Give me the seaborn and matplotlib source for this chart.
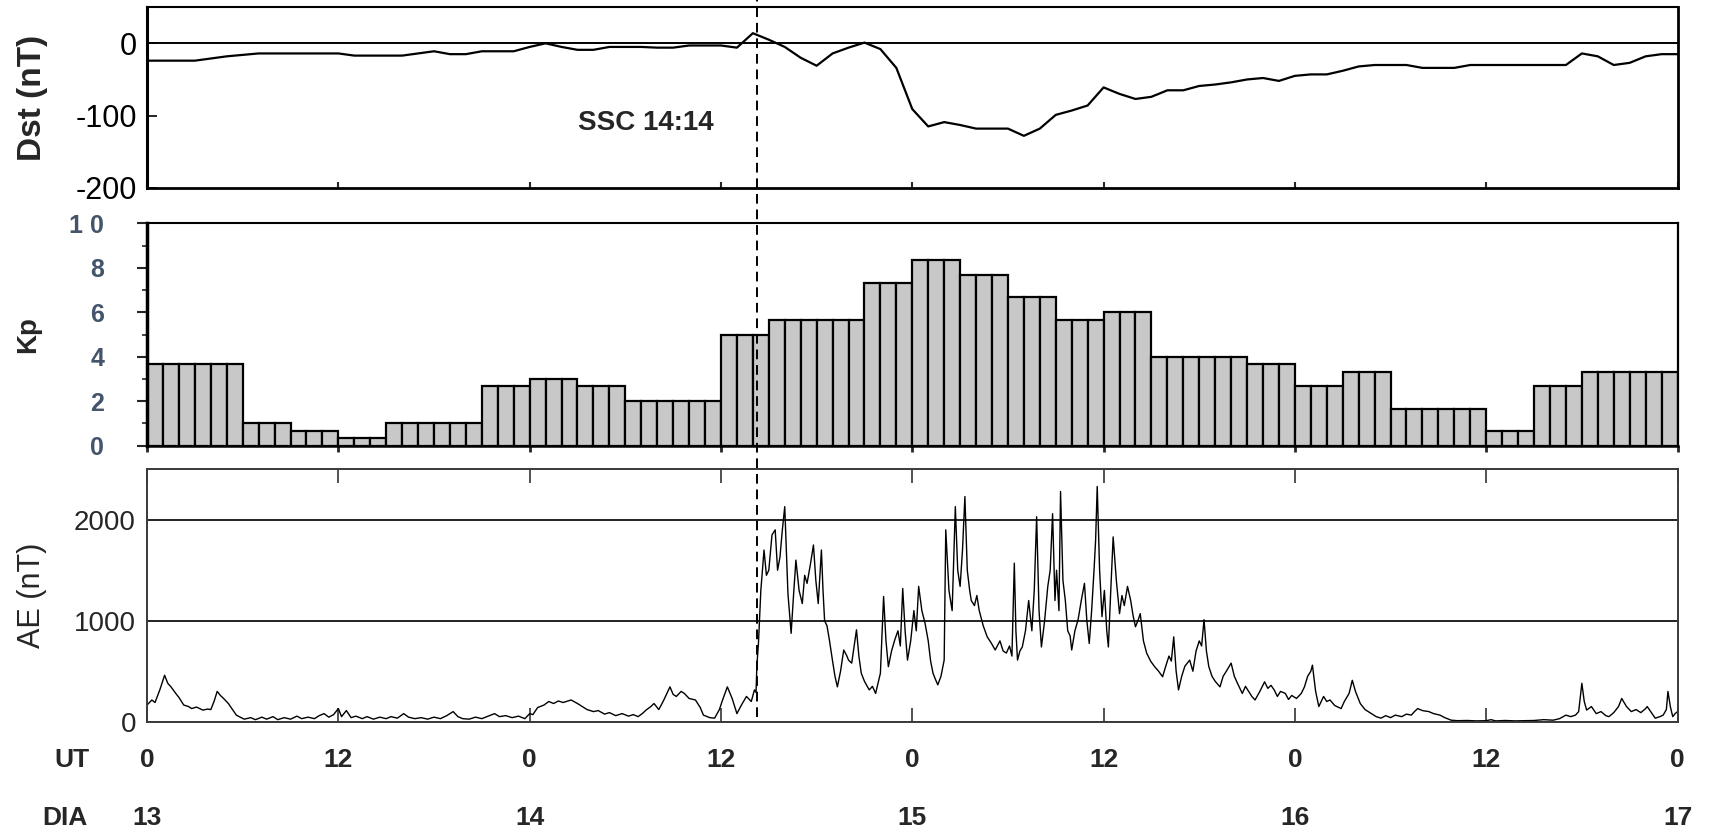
import numpy as np
import matplotlib
matplotlib.use("Agg")
import matplotlib.pyplot as plt
import matplotlib.transforms as mtransforms
from matplotlib.lines import Line2D
from matplotlib.ticker import MultipleLocator
import pandas as pd
import seaborn as sns

# Dst horario (nT), de 13/01 00 UT ate 17/01 00 UT
dst = [-24, -24, -24, -24, -21, -18, -16, -14, -14, -14, -14, -14, -14,
       -17, -17, -17, -17, -14, -11, -15, -15, -11, -11, -11,
       -5, 0, -5, -9, -9, -5, -5, -5, -6, -6, -3, -3, -3, -6,
       14, 5, -5, -20, -31, -14, -6, 1, -8, -34,
       -91, -115, -109, -113, -118, -118, -118, -128, -118, -99, -93, -86,
       -61, -70, -77, -74, -65, -65, -59, -57, -54, -50, -48, -52,
       -45, -43, -43, -38, -32, -30, -30, -30, -34, -34, -34, -30,
       -30, -30, -30, -30, -30, -30, -14, -18, -30, -27, -18, -15, -15]

# Kp tri-horario (32 intervalos)
kp = [3.67, 3.67, 1.0, 0.67, 0.33, 1.0, 1.0, 2.67,
      3.0, 2.67, 2.0, 2.0, 5.0, 5.67, 5.67, 7.33,
      8.33, 7.67, 6.67, 5.67, 6.0, 4.0, 4.0, 3.67,
      2.67, 3.33, 1.67, 1.67, 0.67, 2.67, 3.33, 3.33]

# AE (nT)
ae_hours = [0.0, 0.3, 0.5, 0.8, 1.1, 1.3, 1.5, 1.8, 2.0, 2.3, 2.6, 2.8, 3.1, 3.5, 3.8, 4.0,
            4.2, 4.4, 4.6, 4.8, 5.1, 5.4, 5.6, 5.9, 6.1, 6.5, 6.8, 7.2, 7.5, 7.9, 8.2, 8.6,
            9.0, 9.4, 9.7, 10.1, 10.5, 10.8, 11.1, 11.4, 11.7, 12.0, 12.2, 12.5, 12.8, 13.1,
            13.5, 13.8, 14.2, 14.6, 15.0, 15.3, 15.7, 16.1, 16.4, 16.8, 17.2, 17.6, 18.0, 18.4,
            18.8, 19.2, 19.5, 19.8, 20.2, 20.6, 21.0, 21.4, 21.8, 22.1, 22.5, 22.9, 23.3, 23.7,
            24.0, 24.2, 24.5, 24.9, 25.2, 25.5, 25.8, 26.1, 26.6, 27.0, 27.3, 27.6, 28.0, 28.3,
            28.7, 29.0, 29.4, 29.8, 30.2, 30.5, 30.8, 31.1, 31.3, 31.6, 31.8, 32.1, 32.4, 32.8,
            33.0, 33.2, 33.5, 33.7, 34.0, 34.4, 34.7, 34.9, 35.3, 35.6, 35.9, 36.1, 36.4, 36.7,
            37.0, 37.3, 37.6, 37.9, 38.1, 38.2,
            38.25, 38.35, 38.5, 38.7, 38.85, 39.0, 39.2, 39.4, 39.55, 39.7, 39.85, 40.0, 40.1,
            40.2, 40.4, 40.55, 40.7, 40.9, 41.1, 41.25, 41.4, 41.6, 41.8, 41.95, 42.1, 42.3,
            42.4, 42.5, 42.65, 42.8, 43.0, 43.15, 43.3, 43.5, 43.7, 43.9, 44.0, 44.2, 44.5,
            44.65, 44.8, 45.0, 45.3, 45.5, 45.7, 46.0, 46.2, 46.35, 46.5, 46.7, 46.9, 47.1,
            47.25, 47.4, 47.55, 47.7, 47.9, 48.1, 48.25, 48.4, 48.6, 48.8, 49.0, 49.15, 49.3,
            49.45, 49.6, 49.8, 50.0, 50.1, 50.3, 50.5, 50.6, 50.7, 50.85, 51.0, 51.15, 51.3,
            51.45, 51.6, 51.7, 51.9, 52.05, 52.2, 52.45, 52.7, 52.95, 53.2, 53.5, 53.7, 53.9,
            54.1, 54.25, 54.4, 54.5, 54.6, 54.75, 54.9, 55.1, 55.3, 55.5, 55.65, 55.8, 55.95,
            56.1, 56.3, 56.5, 56.65, 56.8, 56.95, 57.05, 57.2, 57.3, 57.45, 57.6, 57.75, 57.9,
            58.0, 58.2, 58.4, 58.6, 58.8, 58.95, 59.1, 59.25, 59.4, 59.5, 59.6, 59.75, 59.9,
            60.05, 60.2, 60.3, 60.45, 60.6, 60.8, 61.0, 61.15, 61.3, 61.5, 61.7, 61.85, 62.0,
            62.15, 62.3, 62.5, 62.7, 62.95, 63.2, 63.45, 63.7, 63.9, 64.1, 64.25, 64.4, 64.55,
            64.7, 64.9, 65.1, 65.4, 65.6, 65.8, 66.0, 66.15, 66.3, 66.45, 66.6, 66.8, 67.0,
            67.3, 67.5, 67.7, 68.0, 68.2, 68.4, 68.7, 68.9, 69.1, 69.3, 69.5, 69.8, 70.1,
            70.3, 70.5, 70.7, 70.9, 71.1, 71.4, 71.6, 71.8, 72.1, 72.4, 72.6, 72.8, 73.0,
            73.1, 73.3, 73.5, 73.8, 74.0, 74.2, 74.5, 74.9, 75.1, 75.4, 75.6, 75.8, 76.1,
            76.4, 76.8, 77.1, 77.4, 77.7, 78.0, 78.3, 78.7, 79.0, 79.3, 79.5, 79.7, 80.0,
            80.4, 80.7, 81.1, 81.4, 81.8, 82.2, 82.8, 83.4, 84.0, 84.3, 84.6, 85.2, 85.8,
            86.4, 87.0, 87.6, 88.2, 88.6, 89.0, 89.3, 89.6, 89.8, 90.0, 90.15, 90.3, 90.6,
            90.9, 91.2, 91.5, 91.7, 92.0, 92.3, 92.5, 92.8, 93.1, 93.4, 93.7, 94.0, 94.1,
            94.4, 94.6, 94.9, 95.1, 95.3, 95.4, 95.55, 95.7, 95.85, 96.0]
ae_values = [165, 215, 190, 315, 460, 380, 345, 280, 240, 165, 150, 130, 145, 115, 125, 120,
             200, 300, 260, 230, 180, 110, 65, 40, 25, 40, 20, 45, 25, 50, 20, 40,
             25, 55, 30, 45, 30, 60, 80, 45, 70, 130, 50, 110, 40, 55,
             30, 50, 25, 45, 30, 50, 35, 80, 45, 30, 40, 25, 45, 30,
             60, 100, 50, 30, 25, 45, 30, 55, 80, 50, 60, 40, 55, 30,
             80, 70, 140, 165, 200, 180, 205, 190, 215, 180, 150, 120, 100, 110,
             75, 90, 60, 80, 55, 70, 50, 85, 115, 150, 180, 120, 210, 345,
             270, 250, 300, 280, 230, 215, 140, 65, 40, 35, 120, 215, 345, 230,
             80, 170, 250, 200, 315, 290,
             550, 775, 1300, 1700, 1450, 1500, 1850, 1900, 1500, 1630, 1900, 2130, 1700,
             1270, 875, 1250, 1600, 1300, 1170, 1450, 1370, 1550, 1750, 1400, 1170, 1700,
             1300, 1000, 950, 810, 600, 450, 345, 500, 710, 650, 610, 580, 910,
             650, 480, 400, 315, 350, 280, 480, 1240, 800, 545, 700, 810, 900,
             750, 1320, 900, 610, 800, 1100, 900, 1340, 1100, 975, 800, 600, 480,
             420, 365, 450, 610, 1900, 1300, 1100, 1600, 2130, 1500, 1340, 1700, 2230,
             1500, 1300, 1200, 1150, 1250, 1100, 950, 840, 780, 710, 800, 700, 680,
             750, 650, 1570, 900, 610, 700, 740, 900, 1200, 900, 1300, 2030, 1100,
             740, 1000, 1340, 1500, 2060, 1200, 1500, 1100, 2280, 1400, 1200, 900, 850,
             710, 900, 1010, 1200, 1370, 1000, 775, 1100, 1500, 1800, 2330, 1500, 1040,
             1300, 900, 740, 1300, 1830, 1400, 1070, 1250, 1150, 1340, 1200, 1050, 940,
             1000, 1070, 800, 680, 600, 545, 500, 445, 550, 650, 600, 840, 500,
             315, 450, 550, 610, 500, 700, 800, 750, 1010, 700, 545, 450, 400,
             345, 450, 500, 580, 450, 380, 280, 350, 300, 250, 215, 300, 395,
             330, 360, 315, 250, 300, 280, 220, 260, 230, 280, 345, 450, 500,
             560, 300, 150, 250, 200, 215, 160, 130, 200, 280, 410, 300, 180,
             120, 80, 50, 35, 60, 40, 65, 50, 75, 65, 100, 130, 110,
             100, 80, 65, 40, 15, 10, 12, 8, 10, 20, 8, 12, 8,
             10, 12, 20, 15, 30, 65, 50, 65, 100, 380, 200, 115, 150,
             80, 100, 60, 50, 90, 150, 230, 150, 100, 120, 90, 130, 150,
             80, 35, 50, 65, 120, 300, 150, 50, 80, 100]

hour_ticks = [0, 12, 24, 36, 48, 60, 72, 84, 96]
ut_labels = ["0", "12", "0", "12", "0", "12", "0", "12", "0"]
day_ticks = [0, 24, 48, 72, 96]
day_labels = ["13", "14", "15", "16", "17"]
ssc_hour = 24 + 14 + 14 / 60  # SSC 14:14 UT do dia 14

sns.set_theme(style="ticks")
plt.rcParams["font.family"] = ["Liberation Sans", "DejaVu Sans"]

fig = plt.figure(figsize=(17.1, 8.35), dpi=100)
left, width = 0.086, 0.895
ax1 = fig.add_axes([left, 0.775, width, 0.2164])
ax2 = fig.add_axes([left, 0.4662, width, 0.2663])
ax3 = fig.add_axes([left, 0.1357, width, 0.3023])

# --- Dst ---
df_dst = pd.DataFrame({"hora": np.arange(len(dst)), "dst": dst})
sns.lineplot(data=df_dst, x="hora", y="dst", ax=ax1, color="black", lw=1.6)
ax1.axhline(0, color="black", lw=1.4, zorder=1)
ax1.set_xlim(0, 96)
ax1.set_ylim(-200, 50)
ax1.set_yticks([-200, -100, 0])
ax1.set_yticklabels(["-200", "-100", "0"])
ax1.set_xticks(hour_ticks)
ax1.set_xticklabels([])
ax1.tick_params(axis="y", direction="in", length=7, width=1.2, pad=7,
                labelsize=22, colors="black")
ax1.tick_params(axis="x", direction="in", length=4, width=1.5)
for side, lw in zip(["left", "right", "top", "bottom"], [2.2, 2.0, 1.5, 2.0]):
    ax1.spines[side].set_linewidth(lw)
    ax1.spines[side].set_color("black")
ax1.set_xlabel("")
ax1.set_ylabel("")
ax1.text(-0.075, 0.5, "Dst (nT)", transform=ax1.transAxes, rotation=90,
         ha="center", va="center", fontsize=24, fontweight="bold")
ax1.text(31.3, -110, "SSC 14:14", ha="center", va="center",
         fontsize=20, fontweight="bold")

# --- Kp ---
kp_hourly = np.repeat(kp, 3)
df_kp = pd.DataFrame({"hora": np.arange(len(kp_hourly)) + 0.5, "kp": kp_hourly})
sns.barplot(data=df_kp, x="hora", y="kp", ax=ax2, native_scale=True, width=1.0,
            color="#c8c8c8", saturation=1, edgecolor="black", linewidth=1.6,
            errorbar=None)
ax2.set_xlim(0, 96)
ax2.set_ylim(0, 10)
ax2.set_yticks([0, 2, 4, 6, 8, 10])
ax2.set_yticklabels(["0", "2", "4", "6", "8", "1 0"])
ax2.yaxis.set_minor_locator(MultipleLocator(1))
ax2.set_xticks(hour_ticks)
ax2.set_xticklabels([])
ax2.tick_params(axis="y", which="major", direction="out", length=7, width=1.5,
                pad=24, labelsize=18, labelcolor="#44546a")
ax2.tick_params(axis="y", which="minor", direction="out", length=3.5, width=1.2)
ax2.tick_params(axis="x", direction="out", length=4.5, width=2)
for lab in ax2.get_yticklabels():
    lab.set_fontweight("bold")
for side, lw in zip(["left", "right", "top", "bottom"], [2.5, 1.6, 1.5, 1.8]):
    ax2.spines[side].set_linewidth(lw)
    ax2.spines[side].set_color("black")
ax2.set_xlabel("")
ax2.set_ylabel("")
ax2.text(-0.078, 0.5, "Kp", transform=ax2.transAxes, rotation=90,
         ha="center", va="center", fontsize=20, fontweight="bold")

# --- AE ---
df_ae = pd.DataFrame({"hora": ae_hours, "ae": ae_values})
sns.lineplot(data=df_ae, x="hora", y="ae", ax=ax3, color="black", lw=1.0,
             sort=False, estimator=None)
ax3.set_xlim(0, 96)
ax3.set_ylim(0, 2500)
ax3.set_yticks([0, 1000, 2000])
ax3.set_yticklabels(["0", "1000", "2000"])
ax3.grid(axis="y", color="#222222", lw=1.4)
ax3.set_axisbelow(True)
ax3.set_xticks(hour_ticks)
ax3.set_xticklabels([])
ax3.tick_params(axis="y", length=0, pad=8, labelsize=20)
ax3.tick_params(axis="x", direction="in", length=10, width=1.2, top=True,
                bottom=True, color="#333333")
for side in ["left", "right", "top", "bottom"]:
    ax3.spines[side].set_linewidth(1.4)
    ax3.spines[side].set_color("#3a3a3a")
ax3.set_xlabel("")
ax3.set_ylabel("")
ax3.text(-0.075, 0.5, "AE (nT)", transform=ax3.transAxes, rotation=90,
         ha="center", va="center", fontsize=22)

# linhas UT / DIA
row = mtransforms.blended_transform_factory(ax3.transData, fig.transFigure)
for h, lab in zip(hour_ticks, ut_labels):
    ax3.text(h, 0.0898, lab, transform=row, ha="center", va="center",
             fontsize=19, fontweight="bold")
for h, lab in zip(day_ticks, day_labels):
    ax3.text(h, 0.0204, lab, transform=row, ha="center", va="center",
             fontsize=19, fontweight="bold")
fig.text(0.042, 0.0898, "UT", ha="center", va="center", fontsize=19, fontweight="bold")
fig.text(0.038, 0.0204, "DIA", ha="center", va="center", fontsize=19, fontweight="bold")

# linha tracejada do SSC atravessando os tres paineis
fig.add_artist(Line2D([ssc_hour, ssc_hour], [0.141, 1.0], transform=row,
                      color="black", lw=1.4, ls=(0, (5, 3)), zorder=10))

fig.savefig("out.png", dpi=100)
